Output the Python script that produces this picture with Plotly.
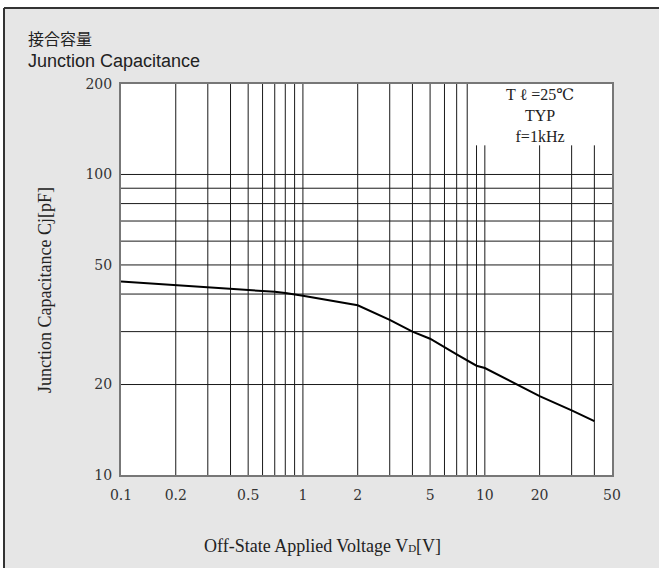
import plotly.graph_objects as go
import math

# ---- data ----
voltage = [0.1, 0.2, 0.3, 0.5, 0.7, 0.8, 1, 2, 3, 4, 5, 7, 9, 10, 20, 30, 40]
capacitance = [44.0, 42.8, 42.2, 41.4, 40.7, 40.3, 39.5, 36.7, 32.8, 30.0, 28.4, 25.2, 23.1, 22.7, 18.3, 16.4, 15.1]

x_tickvals = [0.1, 0.2, 0.5, 1, 2, 5, 10, 20, 50]
x_ticktext = ["0.1", "0.2", "0.5", "1", "2", "5", "10", "20", "50"]
y_tickvals = [10, 20, 50, 100, 200]
y_ticktext = ["10", "20", "50", "100", "200"]

x_grid_full = [0.2, 0.3, 0.4, 0.5, 0.6, 0.7, 0.8, 0.9, 1, 2, 3, 4, 5, 6, 7, 8]
x_grid_short = [9, 10, 20, 30, 40]
y_grid = [20, 30, 40, 50, 60, 70, 80, 90, 100]

x_range = [0.1, 50]
y_range = [10, 200]
short_top = 125

W, H = 659, 568
ML, MR, MT, MB = 121, 47, 84, 93
PW, PH = W - ML - MR, H - MT - MB

def px(xp):
    return (xp - ML) / PW

def py(yp):
    return (H - MB - yp) / PH

SERIF = "Liberation Serif, DejaVu Serif, serif"
DIGITS = "DejaVu Serif, Liberation Serif, serif"
SANS = "Liberation Sans, Noto Sans CJK JP, sans-serif"
CJK = "Noto Sans CJK JP, sans-serif"

fig = go.Figure()

def vlines(xs, y0, y1):
    xx, yy = [], []
    for v in xs:
        xx += [v, v, None]
        yy += [y0, y1, None]
    return xx, yy

gx, gy = vlines(x_grid_full, y_range[0], y_range[1])
fig.add_trace(go.Scatter(x=gx, y=gy, mode="lines", line=dict(color="#1a1a1a", width=1),
                         hoverinfo="skip", showlegend=False))
sx, sy = vlines(x_grid_short, y_range[0], short_top)
fig.add_trace(go.Scatter(x=sx, y=sy, mode="lines", line=dict(color="#1a1a1a", width=1),
                         hoverinfo="skip", showlegend=False))
hx, hy = [], []
for v in y_grid:
    hx += [x_range[0], x_range[1], None]
    hy += [v, v, None]
fig.add_trace(go.Scatter(x=hx, y=hy, mode="lines", line=dict(color="#1a1a1a", width=1),
                         hoverinfo="skip", showlegend=False))

fig.add_trace(go.Scatter(x=voltage, y=capacitance, mode="lines",
                         line=dict(color="#000000", width=2), showlegend=False))

fig.update_xaxes(type="log", range=[math.log10(x_range[0]), math.log10(x_range[1])],
                 tickvals=x_tickvals, ticktext=x_ticktext, showgrid=False, zeroline=False,
                 showline=True, linecolor="#777777", linewidth=2, mirror=True, ticks="",
                 ticklabelstandoff=6,
                 tickfont=dict(family=DIGITS, size=14, color="#333333"))
fig.update_yaxes(type="log", range=[math.log10(y_range[0]), math.log10(y_range[1])],
                 tickvals=y_tickvals, ticktext=y_ticktext, showgrid=False, zeroline=False,
                 showline=True, linecolor="#777777", linewidth=2, mirror=True, ticks="",
                 ticklabelstandoff=4,
                 tickfont=dict(family=DIGITS, size=14, color="#333333"))

annotations = [
    dict(text="接合容量", x=px(26), y=py(38), xref="paper", yref="paper",
         xanchor="left", yanchor="middle", align="left", showarrow=False,
         font=dict(family=CJK, size=16, color="#222222")),
    dict(text="Junction Capacitance", x=px(26), y=py(61), xref="paper", yref="paper",
         xanchor="left", yanchor="middle", align="left", showarrow=False,
         font=dict(family=SANS, size=18, color="#222222")),
    dict(text="T ℓ =25℃<br>TYP<br>f=1kHz", x=px(540), y=py(115), xref="paper", yref="paper",
         xanchor="center", yanchor="middle", align="center", showarrow=False,
         font=dict(family=SERIF, size=16, color="#222222")),
    dict(text="Junction Capacitance Cj[pF]", x=px(45), y=py(290), xref="paper", yref="paper",
         xanchor="center", yanchor="middle", textangle=-90, showarrow=False,
         font=dict(family=SERIF, size=18, color="#222222")),
    dict(text="Off-State Applied Voltage V<span style='font-size:11px'>D</span>[V]",
         x=px(322), y=py(546), xref="paper", yref="paper",
         xanchor="center", yanchor="middle", showarrow=False,
         font=dict(family=SERIF, size=18, color="#222222")),
]

shapes = [
    dict(type="rect", xref="paper", yref="paper", x0=px(-20), x1=px(4), y0=py(H + 20), y1=py(-20),
         fillcolor="#ffffff", line=dict(width=0), layer="below"),
    dict(type="rect", xref="paper", yref="paper", x0=px(-20), x1=px(W + 20), y0=py(8), y1=py(-20),
         fillcolor="#ffffff", line=dict(width=0), layer="below"),
    dict(type="line", xref="paper", yref="paper", x0=px(4), x1=px(4), y0=py(H + 10), y1=py(8),
         line=dict(color="#333333", width=2)),
    dict(type="line", xref="paper", yref="paper", x0=px(4), x1=px(W + 10), y0=py(8), y1=py(8),
         line=dict(color="#333333", width=2)),
]

fig.update_layout(width=W, height=H, margin=dict(l=ML, r=MR, t=MT, b=MB),
                  paper_bgcolor="#e6e6e6", plot_bgcolor="#ffffff",
                  annotations=annotations, shapes=shapes, showlegend=False)

fig.write_html("out.html", config={"displayModeBar": False},
               post_script="document.body.style.margin='0px';document.body.style.padding='0px';")
